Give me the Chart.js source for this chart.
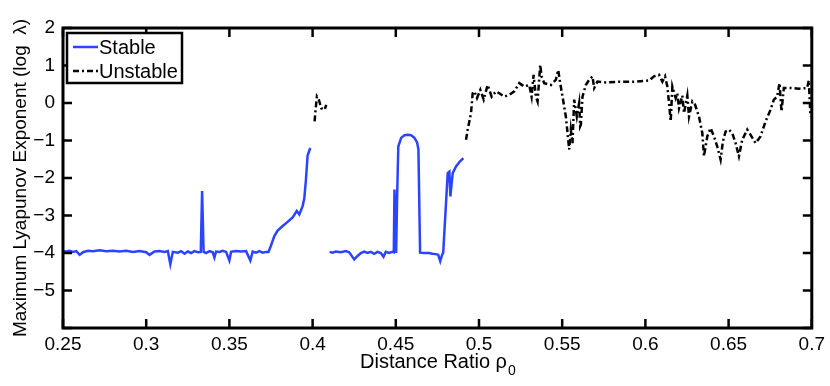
<!DOCTYPE html>
<html>
<head>
<meta charset="utf-8">
<script src="https://cdn.jsdelivr.net/npm/chart.js@4/dist/chart.umd.min.js"></script>
<style>
  html, body { margin: 0; padding: 0; background: #fff; }
  #wrap { width: 830px; height: 386px; }
</style>
</head>
<body>
<div id="wrap"><canvas id="chart" width="830" height="386"></canvas></div>
<script>
// values, null = break in the curve
var stableX = [
    0.250, 0.252, 0.254, 0.256, 0.258, 0.260, 0.262, 0.265, 0.268, 0.272,
    0.276, 0.280, 0.284, 0.288, 0.292, 0.296, 0.300, 0.302, 0.305, 0.308,
    0.311, 0.313, 0.3145, 0.316, 0.319, 0.321, 0.323, 0.325, 0.327, 0.329,
    0.331, 0.3328, 0.3336, 0.3345, 0.336, 0.338, 0.340, 0.341, 0.342, 0.344,
    0.346, 0.348, 0.350, 0.351, 0.354, 0.357, 0.360, 0.3626, 0.364, 0.366,
    0.368, 0.370, 0.372, 0.3735, 0.375, 0.377, 0.379, 0.382, 0.385, 0.388,
    0.3905, 0.392, 0.394, 0.395, 0.396, 0.397, 0.3986, 0.404,
    0.4102, 0.412, 0.414, 0.417, 0.420, 0.422, 0.425, 0.427, 0.429, 0.431,
    0.433, 0.435, 0.437, 0.439, 0.441, 0.4426, 0.444, 0.446, 0.448, 0.4488,
    0.4492, 0.4502, 0.4508, 0.4515, 0.4532, 0.4552, 0.4572, 0.4592, 0.4612, 0.4628,
    0.4636, 0.4646, 0.467, 0.470, 0.472, 0.474, 0.4755, 0.4767, 0.4778, 0.4785,
    0.4812, 0.4822, 0.4828, 0.4842, 0.4862, 0.4885, 0.4906
]
var stableY = [
    -3.95, -3.96, -3.94, -3.97, -3.95, -4.05, -3.98, -3.94, -3.95, -3.93,
    -3.95, -3.94, -3.96, -3.94, -3.97, -3.95, -3.98, -4.05, -3.96, -3.95,
    -3.97, -3.95, -4.30, -3.97, -3.99, -3.95, -4.02, -3.96, -4.00, -3.95,
    -3.98, -3.97, -2.35, -3.97, -4.00, -3.95, -3.98, -4.12, -3.96, -3.97,
    -3.94, -3.97, -4.20, -3.97, -3.95, -3.96, -3.95, -4.20, -3.96, -3.99,
    -3.95, -3.99, -3.97, -3.97, -3.80, -3.55, -3.40, -3.28, -3.17, -3.05,
    -2.88, -2.97, -2.75, -2.55, -2.04, -1.40, -1.20, null,
    -3.97, -3.99, -3.96, -3.98, -3.95, -3.98, -4.17, -4.08, -4.00, -3.96,
    -4.00, -3.97, -4.02, -3.97, -4.00, -4.10, -3.97, -4.00, -3.97, -3.98,
    -2.31, -4.00, -2.50, -1.16, -0.93, -0.86, -0.85, -0.86, -0.93, -1.05,
    -1.24, -3.99, -4.00, -4.00, -4.02, -4.03, -4.05, -4.22, -4.05, -3.99,
    -1.87, -1.83, -2.49, -1.87, -1.69, -1.56, -1.47
]

var unstableX = [
    0.4012, 0.4018, 0.4026, 0.4038, 0.4052, 0.4072, 0.4082, 0.450,
    0.4922, 0.4932, 0.4952, 0.4962, 0.4972, 0.4988, 0.5008, 0.5028, 0.5052, 0.5076,
    0.5102, 0.5122, 0.5152, 0.5182, 0.5212, 0.5242, 0.5272, 0.5302, 0.5316, 0.5328,
    0.5342, 0.5352, 0.5368, 0.5376, 0.5392, 0.5432, 0.5462, 0.5476, 0.5488, 0.5502,
    0.5522, 0.5532, 0.5542, 0.5552, 0.5562, 0.5572, 0.5588, 0.5602, 0.5608, 0.5612,
    0.5622, 0.5642, 0.5662, 0.5682, 0.5692, 0.5712, 0.5762, 0.5862, 0.5942, 0.6022,
    0.6052, 0.6082, 0.6102, 0.6118, 0.6132, 0.6142, 0.6152, 0.6162, 0.6182, 0.6192,
    0.6202, 0.6222, 0.6232, 0.6252, 0.6262, 0.6282, 0.6298, 0.6322, 0.6342, 0.6352,
    0.6372, 0.6392, 0.6412, 0.6432, 0.6452, 0.6466, 0.6482, 0.6502, 0.6522, 0.6542,
    0.6562, 0.6582, 0.6612, 0.6632, 0.6662, 0.6692, 0.6722, 0.6752, 0.6772, 0.6792,
    0.6806, 0.6818, 0.6832, 0.6872, 0.6922, 0.6972, 0.6982, 0.6992
]
var unstableY = [
    -0.49, -0.18, 0.17, 0.08, -0.14, -0.18, -0.05, null,
    -0.98, -0.71, -0.27, 0.26, 0.31, 0.13, 0.35, 0.09, 0.48, 0.17,
    0.31, 0.26, 0.17, 0.22, 0.31, 0.53, 0.44, 0.48, 0.17, 0.75,
    0.17, 0.04, 1.02, 0.71, 0.53, 0.48, 0.62, 0.88, 0.53, 0.17,
    -0.36, -0.80, -1.24, -0.71, -1.07, 0.09, -0.36, 0.00, -0.62, -0.58,
    0.17, 0.48, 0.62, 0.71, 0.40, 0.57, 0.55, 0.57, 0.57, 0.60,
    0.71, 0.75, 0.57, 0.71, 0.44, 0.00, -0.49, 0.44, 0.13, 0.26,
    -0.14, 0.20, -0.27, 0.20, -0.36, 0.04, -0.04, -0.36, -0.80, -1.42,
    -0.89, -0.67, -0.89, -1.16, -1.51, -1.02, -0.76, -0.71, -0.80, -1.07,
    -1.42, -0.98, -0.71, -0.85, -1.07, -0.89, -0.49, -0.18, 0.09, 0.17,
    0.53, -0.23, 0.40, 0.40, 0.38, 0.40, 0.60, -0.36
]

var xTicks = [0.25, 0.3, 0.35, 0.4, 0.45, 0.5, 0.55, 0.6, 0.65, 0.7]
var yTicks = [-6, -5, -4, -3, -2, -1, 0, 1, 2]

var FONT = 'Liberation Sans, Arial, Helvetica, sans-serif'

function toPoints(xs, ys) {
    return xs.map((x, i) => ({x: x, y: ys[i]}))
}

// frame around the plot with inward ticks on all four sides
var framePlugin = {
    id: 'frame',
    afterDatasetsDraw(chart) {
        let ctx = chart.ctx
        let a = chart.chartArea
        let xs = chart.scales.x
        let ys = chart.scales.y
        let len = 9
        ctx.save()
        ctx.strokeStyle = '#000'
        ctx.lineWidth = 2.5
        ctx.beginPath()
        xTicks.forEach(v => {
            let px = xs.getPixelForValue(v)
            ctx.moveTo(px, a.bottom); ctx.lineTo(px, a.bottom - len)
            ctx.moveTo(px, a.top); ctx.lineTo(px, a.top + len)
        })
        yTicks.forEach(v => {
            let py = ys.getPixelForValue(v)
            ctx.moveTo(a.left, py); ctx.lineTo(a.left + len, py)
            ctx.moveTo(a.right, py); ctx.lineTo(a.right - len, py)
        })
        ctx.stroke()
        ctx.lineWidth = 3
        ctx.strokeRect(a.left, a.top, a.right - a.left, a.bottom - a.top)

        // legend box in the top-left corner
        let lx = a.left + 4, ly = a.top + 5, lw = 115, lh = 50
        ctx.fillStyle = '#fff'
        ctx.fillRect(lx, ly, lw, lh)
        ctx.lineWidth = 2.5
        ctx.strokeRect(lx, ly, lw, lh)
        chart.data.datasets.forEach((ds, i) => {
            let yy = ly + 14 + i * 24
            ctx.beginPath()
            ctx.strokeStyle = ds.borderColor
            ctx.lineWidth = ds.borderWidth
            ctx.setLineDash(ds.borderDash || [])
            ctx.moveTo(lx + 6, yy)
            ctx.lineTo(lx + 31, yy)
            ctx.stroke()
            ctx.setLineDash([])
            ctx.fillStyle = '#000'
            ctx.font = '20px ' + FONT
            ctx.textBaseline = 'middle'
            ctx.textAlign = 'left'
            ctx.fillText(ds.label, lx + 32, yy + 1)
        })

        // x axis title with subscript
        ctx.fillStyle = '#000'
        ctx.textBaseline = 'alphabetic'
        let main = 'Distance Ratio ρ'
        ctx.font = '20px ' + FONT
        let w1 = ctx.measureText(main).width
        ctx.font = '14px ' + FONT
        let w2 = ctx.measureText('0').width
        let x0 = (a.left + a.right) / 2 - (w1 + w2) / 2
        ctx.font = '20px ' + FONT
        ctx.textAlign = 'left'
        ctx.fillText(main, x0, 368)
        ctx.font = '14px ' + FONT
        ctx.fillText('0', x0 + w1 + 1, 375)
        ctx.restore()
    }
}

function createChart() {
    let ctx = document.getElementById('chart').getContext('2d')
    return new Chart(ctx, {
        type: 'line',
        data: {
            datasets: [{
                label: 'Stable',
                data: toPoints(stableX, stableY),
                borderColor: '#2a44ff',
                borderWidth: 2.5,
                pointRadius: 0,
                spanGaps: false,
                tension: 0
            }, {
                label: 'Unstable',
                data: toPoints(unstableX, unstableY),
                borderColor: '#000',
                borderWidth: 2.5,
                borderDash: [6, 3, 2, 3],
                pointRadius: 0,
                spanGaps: false,
                tension: 0
            }]
        },
        options: {
            responsive: false,
            animation: false,
            layout: {padding: {left: 0, top: 28, right: 17, bottom: 0}},
            plugins: {legend: {display: false}, tooltip: {enabled: false}},
            scales: {
                x: {
                    type: 'linear',
                    min: 0.25,
                    max: 0.7,
                    afterBuildTicks: s => { s.ticks = xTicks.map(v => ({value: v})) },
                    afterFit: s => { s.height = 58 },
                    grid: {display: false, drawTicks: false},
                    border: {display: false},
                    ticks: {
                        color: '#000',
                        padding: 5,
                        maxRotation: 0,
                        font: {family: FONT, size: 19},
                        callback: v => String(+v.toFixed(2))
                    }
                },
                y: {
                    type: 'linear',
                    min: -6,
                    max: 2,
                    afterBuildTicks: s => { s.ticks = yTicks.map(v => ({value: v})) },
                    afterFit: s => { s.width = 63 },
                    grid: {display: false, drawTicks: false},
                    border: {display: false},
                    title: {
                        display: true,
                        text: 'Maximum Lyapunov Exponent (log  λ)',
                        color: '#000',
                        padding: {top: 9, bottom: 0},
                        font: {family: FONT, size: 19}
                    },
                    ticks: {
                        color: '#000',
                        padding: 8,
                        font: {family: FONT, size: 19},
                        callback: v => v === -6 ? '' : (v < 0 ? '\u2212' + Math.abs(v) : String(v))
                    }
                }
            }
        },
        plugins: [framePlugin]
    })
}

createChart()
</script>
</body>
</html>
